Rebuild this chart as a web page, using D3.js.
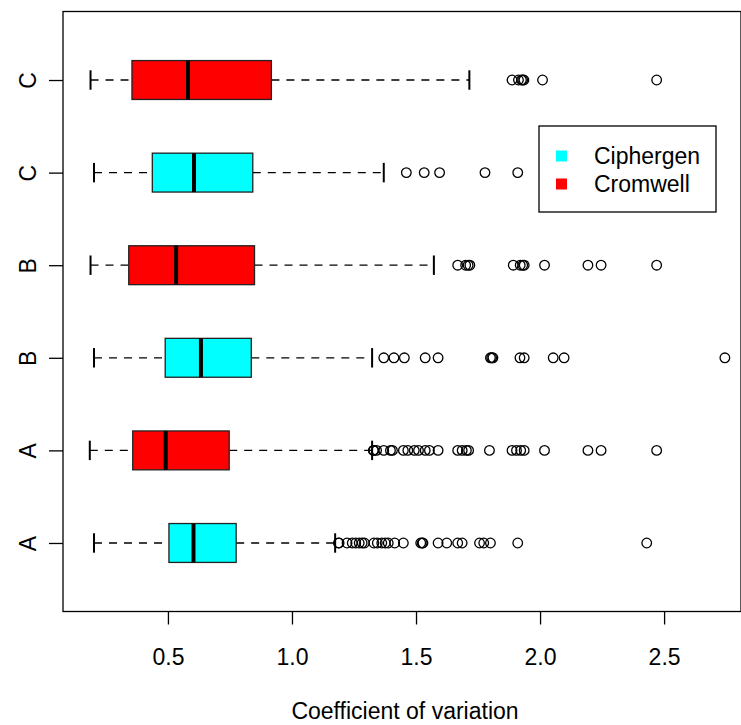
<!DOCTYPE html>
<html>
<head>
<meta charset="utf-8">
<script src="https://cdn.jsdelivr.net/npm/d3@7"></script>
<style>
  body { margin: 0; background: #fff; }
  svg { font-family: "Liberation Sans", Arial, sans-serif; }
</style>
</head>
<body>
<svg id="chart" width="741" height="725"></svg>
<script>
// groups from bottom (position 1) to top (position 6)
var groups   = ["A", "A", "B", "B", "C", "C"];
var methods  = ["Ciphergen", "Cromwell", "Ciphergen", "Cromwell", "Ciphergen", "Cromwell"];
var lowWhisk = [0.202, 0.185, 0.202, 0.188, 0.202, 0.188];
var q1       = [0.504, 0.358, 0.489, 0.342, 0.437, 0.355];
var medians  = [0.603, 0.491, 0.633, 0.533, 0.605, 0.581];
var q3       = [0.775, 0.747, 0.836, 0.849, 0.842, 0.917];
var highWhisk= [1.174, 1.323, 1.323, 1.572, 1.370, 1.715];
var outliers = [
  [1.187, 1.19, 1.222, 1.243, 1.257, 1.271, 1.283, 1.292, 1.33, 1.344, 1.362, 1.376, 1.388,
   1.414, 1.449, 1.519, 1.525, 1.528, 1.589, 1.624, 1.668, 1.686, 1.756, 1.773, 1.80, 1.91, 2.43],
  [1.328, 1.33, 1.341, 1.37, 1.397, 1.405, 1.449, 1.467, 1.493, 1.51, 1.537, 1.554, 1.589,
   1.668, 1.686, 1.703, 1.712, 1.796, 1.887, 1.905, 1.922, 1.936, 2.018, 2.193, 2.246, 2.47],
  [1.37, 1.411, 1.453, 1.537, 1.589, 1.80, 1.805, 1.81, 1.919, 1.936, 2.053, 2.097, 2.745],
  [1.668, 1.70, 1.71, 1.717, 1.892, 1.92, 1.93, 1.936, 2.018, 2.193, 2.246, 2.47],
  [1.461, 1.533, 1.595, 1.778, 1.91],
  [1.887, 1.913, 1.925, 1.93, 1.935, 2.01, 2.47]
];
var methodNames  = ["Ciphergen", "Cromwell"];
var methodColors = ["#00FFFF", "#FF0000"];
var xTicks = [0.5, 1.0, 1.5, 2.0, 2.5];

var svg = d3.select("#chart");
var plotLeft = 63, plotRight = 741, plotTop = 11.5, plotBottom = 611.5;
var fontSize = 23;

var x = d3.scaleLinear().domain([0.077, 2.81]).range([plotLeft, plotRight]);
var y = d3.scaleLinear().domain([0.26, 6.74]).range([plotBottom, plotTop]);
var color = d3.scaleOrdinal().domain(methodNames).range(methodColors);

var halfBox = 0.21, halfStaple = 0.105;

var rows = groups.map(function(g, i) {
  return {pos: i + 1, group: g, method: methods[i], lo: lowWhisk[i], q1: q1[i],
          med: medians[i], q3: q3[i], hi: highWhisk[i], out: outliers[i]};
});

var box = svg.selectAll("g.box").data(rows).enter().append("g").attr("class", "box");

// whiskers
box.append("line")
  .attr("x1", function(d) { return x(d.lo); }).attr("x2", function(d) { return x(d.q1); })
  .attr("y1", function(d) { return y(d.pos); }).attr("y2", function(d) { return y(d.pos); })
  .attr("stroke", "#000").attr("stroke-width", 1.3).attr("stroke-dasharray", "8,7");
box.append("line")
  .attr("x1", function(d) { return x(d.q3); }).attr("x2", function(d) { return x(d.hi); })
  .attr("y1", function(d) { return y(d.pos); }).attr("y2", function(d) { return y(d.pos); })
  .attr("stroke", "#000").attr("stroke-width", 1.3).attr("stroke-dasharray", "8,7");

// staples
["lo", "hi"].forEach(function(k) {
  box.append("line")
    .attr("x1", function(d) { return x(d[k]); }).attr("x2", function(d) { return x(d[k]); })
    .attr("y1", function(d) { return y(d.pos + halfStaple); })
    .attr("y2", function(d) { return y(d.pos - halfStaple); })
    .attr("stroke", "#000").attr("stroke-width", 2);
});

// boxes
box.append("rect")
  .attr("x", function(d) { return x(d.q1); })
  .attr("width", function(d) { return x(d.q3) - x(d.q1); })
  .attr("y", function(d) { return y(d.pos + halfBox); })
  .attr("height", function(d) { return y(d.pos - halfBox) - y(d.pos + halfBox); })
  .attr("fill", function(d) { return color(d.method); })
  .attr("stroke", "#222").attr("stroke-width", 1.3);

// medians
box.append("line")
  .attr("x1", function(d) { return x(d.med); }).attr("x2", function(d) { return x(d.med); })
  .attr("y1", function(d) { return y(d.pos + halfBox); })
  .attr("y2", function(d) { return y(d.pos - halfBox); })
  .attr("stroke", "#000").attr("stroke-width", 4);

// outliers
box.each(function(d) {
  d3.select(this).selectAll("circle").data(d.out).enter().append("circle")
    .attr("cx", function(v) { return x(v); })
    .attr("cy", y(d.pos))
    .attr("r", 4.8)
    .attr("fill", "none").attr("stroke", "#000").attr("stroke-width", 1.3);
});

// plot frame
svg.append("rect")
  .attr("x", plotLeft).attr("y", plotTop)
  .attr("width", plotRight - plotLeft).attr("height", plotBottom - plotTop)
  .attr("fill", "none").attr("stroke", "#000").attr("stroke-width", 1.3);

// x axis
var xAxis = svg.append("g")
  .attr("transform", "translate(0," + plotBottom + ")")
  .call(d3.axisBottom(x).tickValues(xTicks).tickFormat(d3.format(".1f")).tickSize(13).tickPadding(24));
xAxis.select(".domain").remove();
xAxis.selectAll("line").attr("stroke", "#000").attr("stroke-width", 1.3);
xAxis.selectAll("text").attr("font-size", fontSize).attr("fill", "#000")
  .attr("font-family", "Liberation Sans, Arial, sans-serif");

// y axis
var yAxis = svg.append("g")
  .attr("transform", "translate(" + plotLeft + ",0)")
  .call(d3.axisLeft(y).tickValues(rows.map(function(d) { return d.pos; }))
    .tickFormat(function(p) { return groups[p - 1]; }).tickSize(14));
yAxis.select(".domain").remove();
yAxis.selectAll("line").attr("stroke", "#000").attr("stroke-width", 1.3);
yAxis.selectAll("text").remove();
yAxis.selectAll(".tick").append("text")
  .attr("transform", "translate(-35,0) rotate(-90)")
  .attr("text-anchor", "middle").attr("dy", "0.35em")
  .attr("font-size", fontSize).attr("fill", "#000")
  .attr("font-family", "Liberation Sans, Arial, sans-serif")
  .text(function(p) { return groups[p - 1]; });

// axis title
svg.append("text")
  .attr("x", (plotLeft + plotRight) / 2 + 3).attr("y", 719)
  .attr("text-anchor", "middle").attr("font-size", fontSize)
  .text("Coefficient of variation");

// legend
var legend = svg.append("g").attr("transform", "translate(539,126)");
legend.append("rect").attr("width", 177).attr("height", 86)
  .attr("fill", "#fff").attr("stroke", "#000").attr("stroke-width", 1.3);
methodNames.forEach(function(m, i) {
  legend.append("rect").attr("x", 17).attr("y", 30 + i * 28 - 5.5)
    .attr("width", 11).attr("height", 11).attr("fill", color(m));
  legend.append("text").attr("x", 55).attr("y", 30 + i * 28).attr("dy", "0.35em")
    .attr("font-size", fontSize).text(m);
});
</script>
</body>
</html>
